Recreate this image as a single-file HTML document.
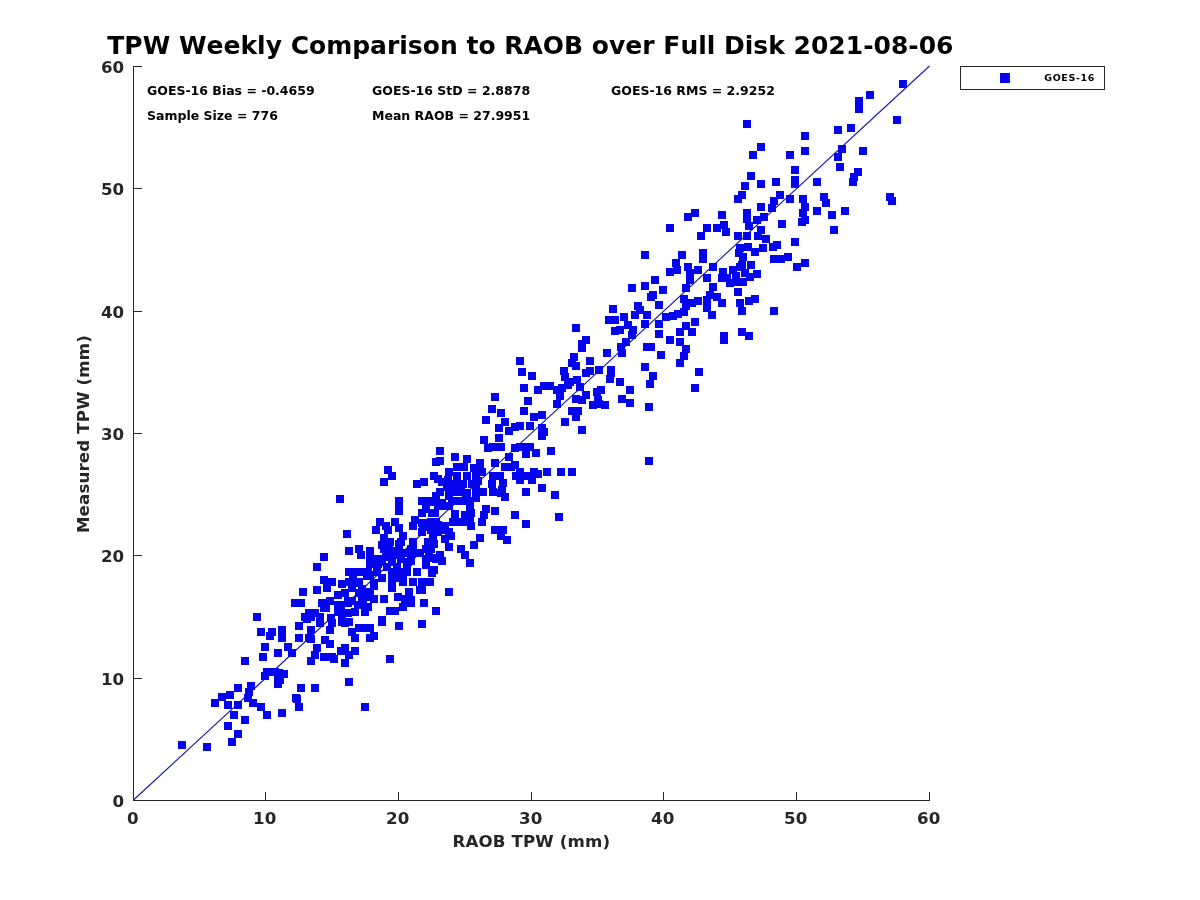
<!DOCTYPE html>
<html><head><meta charset="utf-8"><title>TPW Weekly Comparison to RAOB over Full Disk</title>
<style>
html,body{margin:0;padding:0;background:#fff;}
body{width:1200px;height:900px;overflow:hidden;}
svg{display:block;font-family:"DejaVu Sans","Liberation Sans",sans-serif;font-weight:bold;font-kerning:none;font-variant-ligatures:none;}
.ax{fill:#262626;shape-rendering:crispEdges;}
.tk{fill:#262626;font-size:16.67px;}
.lb{fill:#262626;font-size:16.67px;letter-spacing:0.14px;}
.st{fill:#000;font-size:12.5px;}
.mk{fill:#0404ee;shape-rendering:crispEdges;}
</style></head>
<body>
<svg width="1200" height="900" viewBox="0 0 1200 900">
<rect width="1200" height="900" fill="#fff"/>
<text x="530.4" y="53.8" text-anchor="middle" font-size="25" fill="#000">TPW Weekly Comparison to RAOB over Full Disk 2021-08-06</text>
<g class="st">
<text x="147" y="95">GOES-16 Bias = -0.4659</text>
<text x="147" y="120">Sample Size = 776</text>
<text x="372" y="95">GOES-16 StD = 2.8878</text>
<text x="372" y="120">Mean RAOB = 27.9951</text>
<text x="611" y="95">GOES-16 RMS = 2.9252</text>
</g>
<line x1="133.5" y1="800" x2="929.5" y2="66" stroke="#1818b0" stroke-width="1.15"/>
<path class="mk" d="M178 741h8v8h-8zM203 743h8v8h-8zM211 699h8v8h-8zM218 693h8v8h-8zM224 701h8v8h-8zM224 722h8v8h-8zM226 691h8v8h-8zM228 738h8v8h-8zM230 711h8v8h-8zM234 684h8v8h-8zM234 701h8v8h-8zM234 730h8v8h-8zM241 657h8v8h-8zM241 716h8v8h-8zM244 694h8v8h-8zM245 688h8v8h-8zM247 682h8v8h-8zM249 699h8v8h-8zM253 613h8v8h-8zM257 628h8v8h-8zM257 703h8v8h-8zM259 653h8v8h-8zM261 643h8v8h-8zM261 672h8v8h-8zM263 668h8v8h-8zM263 711h8v8h-8zM266 632h8v8h-8zM268 628h8v8h-8zM271 668h8v8h-8zM274 649h8v8h-8zM274 674h8v8h-8zM274 680h8v8h-8zM275 669h8v8h-8zM276 676h8v8h-8zM278 626h8v8h-8zM278 634h8v8h-8zM278 709h8v8h-8zM280 670h8v8h-8zM284 643h8v8h-8zM288 649h8v8h-8zM291 599h8v8h-8zM292 694h8v8h-8zM293 695h8v8h-8zM295 622h8v8h-8zM295 634h8v8h-8zM295 703h8v8h-8zM297 599h8v8h-8zM297 684h8v8h-8zM299 588h8v8h-8zM301 613h8v8h-8zM303 615h8v8h-8zM305 609h8v8h-8zM305 634h8v8h-8zM307 613h8v8h-8zM307 626h8v8h-8zM307 635h8v8h-8zM307 657h8v8h-8zM311 609h8v8h-8zM311 651h8v8h-8zM311 684h8v8h-8zM313 563h8v8h-8zM313 586h8v8h-8zM313 644h8v8h-8zM316 613h8v8h-8zM316 619h8v8h-8zM318 599h8v8h-8zM320 553h8v8h-8zM320 576h8v8h-8zM320 604h8v8h-8zM320 653h8v8h-8zM321 636h8v8h-8zM322 604h8v8h-8zM323 584h8v8h-8zM326 597h8v8h-8zM326 626h8v8h-8zM326 640h8v8h-8zM327 614h8v8h-8zM328 578h8v8h-8zM328 619h8v8h-8zM328 653h8v8h-8zM330 655h8v8h-8zM334 591h8v8h-8zM334 601h8v8h-8zM334 608h8v8h-8zM336 495h8v8h-8zM337 601h8v8h-8zM337 647h8v8h-8zM338 580h8v8h-8zM338 609h8v8h-8zM338 612h8v8h-8zM338 618h8v8h-8zM341 589h8v8h-8zM341 619h8v8h-8zM341 644h8v8h-8zM341 659h8v8h-8zM343 530h8v8h-8zM344 597h8v8h-8zM344 599h8v8h-8zM344 609h8v8h-8zM345 547h8v8h-8zM345 568h8v8h-8zM345 578h8v8h-8zM345 618h8v8h-8zM345 651h8v8h-8zM345 678h8v8h-8zM348 578h8v8h-8zM348 584h8v8h-8zM348 597h8v8h-8zM348 628h8v8h-8zM349 573h8v8h-8zM351 568h8v8h-8zM351 608h8v8h-8zM351 634h8v8h-8zM351 647h8v8h-8zM352 579h8v8h-8zM354 601h8v8h-8zM355 545h8v8h-8zM355 578h8v8h-8zM355 589h8v8h-8zM355 624h8v8h-8zM357 551h8v8h-8zM358 568h8v8h-8zM358 585h8v8h-8zM358 591h8v8h-8zM358 598h8v8h-8zM359 597h8v8h-8zM361 608h8v8h-8zM361 703h8v8h-8zM362 588h8v8h-8zM362 603h8v8h-8zM362 624h8v8h-8zM363 572h8v8h-8zM364 568h8v8h-8zM364 593h8v8h-8zM364 603h8v8h-8zM366 547h8v8h-8zM366 554h8v8h-8zM366 560h8v8h-8zM366 571h8v8h-8zM366 589h8v8h-8zM366 624h8v8h-8zM366 634h8v8h-8zM370 579h8v8h-8zM370 582h8v8h-8zM370 595h8v8h-8zM370 632h8v8h-8zM372 526h8v8h-8zM373 568h8v8h-8zM374 555h8v8h-8zM374 560h8v8h-8zM376 518h8v8h-8zM378 541h8v8h-8zM378 558h8v8h-8zM378 574h8v8h-8zM378 616h8v8h-8zM378 618h8v8h-8zM380 478h8v8h-8zM380 534h8v8h-8zM380 545h8v8h-8zM380 595h8v8h-8zM382 522h8v8h-8zM382 553h8v8h-8zM383 563h8v8h-8zM384 466h8v8h-8zM384 526h8v8h-8zM385 545h8v8h-8zM386 538h8v8h-8zM386 607h8v8h-8zM386 655h8v8h-8zM388 472h8v8h-8zM388 558h8v8h-8zM388 568h8v8h-8zM388 576h8v8h-8zM388 584h8v8h-8zM389 551h8v8h-8zM391 518h8v8h-8zM391 607h8v8h-8zM393 547h8v8h-8zM393 563h8v8h-8zM394 593h8v8h-8zM395 497h8v8h-8zM395 502h8v8h-8zM395 507h8v8h-8zM395 524h8v8h-8zM395 540h8v8h-8zM395 545h8v8h-8zM395 568h8v8h-8zM395 574h8v8h-8zM395 622h8v8h-8zM397 538h8v8h-8zM397 555h8v8h-8zM399 532h8v8h-8zM399 576h8v8h-8zM399 578h8v8h-8zM399 603h8v8h-8zM401 549h8v8h-8zM401 595h8v8h-8zM403 563h8v8h-8zM403 568h8v8h-8zM403 599h8v8h-8zM404 558h8v8h-8zM405 588h8v8h-8zM407 545h8v8h-8zM407 557h8v8h-8zM407 596h8v8h-8zM407 599h8v8h-8zM408 550h8v8h-8zM409 522h8v8h-8zM409 538h8v8h-8zM409 545h8v8h-8zM409 578h8v8h-8zM411 516h8v8h-8zM413 480h8v8h-8zM413 568h8v8h-8zM416 549h8v8h-8zM416 586h8v8h-8zM418 497h8v8h-8zM418 509h8v8h-8zM418 519h8v8h-8zM418 528h8v8h-8zM418 578h8v8h-8zM418 586h8v8h-8zM418 620h8v8h-8zM419 523h8v8h-8zM420 478h8v8h-8zM420 599h8v8h-8zM422 505h8v8h-8zM422 545h8v8h-8zM422 555h8v8h-8zM422 561h8v8h-8zM424 497h8v8h-8zM424 519h8v8h-8zM424 538h8v8h-8zM425 549h8v8h-8zM426 578h8v8h-8zM427 518h8v8h-8zM427 526h8v8h-8zM427 545h8v8h-8zM428 509h8v8h-8zM428 569h8v8h-8zM429 534h8v8h-8zM429 554h8v8h-8zM430 472h8v8h-8zM430 498h8v8h-8zM430 540h8v8h-8zM430 566h8v8h-8zM431 509h8v8h-8zM432 458h8v8h-8zM432 492h8v8h-8zM432 518h8v8h-8zM432 555h8v8h-8zM432 607h8v8h-8zM434 475h8v8h-8zM434 502h8v8h-8zM434 521h8v8h-8zM434 528h8v8h-8zM436 447h8v8h-8zM436 457h8v8h-8zM436 488h8v8h-8zM436 551h8v8h-8zM438 478h8v8h-8zM438 499h8v8h-8zM438 502h8v8h-8zM438 557h8v8h-8zM441 522h8v8h-8zM441 526h8v8h-8zM441 535h8v8h-8zM443 483h8v8h-8zM443 502h8v8h-8zM444 476h8v8h-8zM445 468h8v8h-8zM445 490h8v8h-8zM445 492h8v8h-8zM445 502h8v8h-8zM445 528h8v8h-8zM445 543h8v8h-8zM445 588h8v8h-8zM447 532h8v8h-8zM448 497h8v8h-8zM449 518h8v8h-8zM451 453h8v8h-8zM451 480h8v8h-8zM451 488h8v8h-8zM451 510h8v8h-8zM451 511h8v8h-8zM453 463h8v8h-8zM453 472h8v8h-8zM453 518h8v8h-8zM454 497h8v8h-8zM457 488h8v8h-8zM457 545h8v8h-8zM458 497h8v8h-8zM459 480h8v8h-8zM460 463h8v8h-8zM460 518h8v8h-8zM461 511h8v8h-8zM461 551h8v8h-8zM463 455h8v8h-8zM463 472h8v8h-8zM463 489h8v8h-8zM466 497h8v8h-8zM466 504h8v8h-8zM466 515h8v8h-8zM466 559h8v8h-8zM467 509h8v8h-8zM467 522h8v8h-8zM468 480h8v8h-8zM470 464h8v8h-8zM470 541h8v8h-8zM472 472h8v8h-8zM472 484h8v8h-8zM472 489h8v8h-8zM472 494h8v8h-8zM474 477h8v8h-8zM476 459h8v8h-8zM476 464h8v8h-8zM476 534h8v8h-8zM478 468h8v8h-8zM478 518h8v8h-8zM479 488h8v8h-8zM480 436h8v8h-8zM480 511h8v8h-8zM482 416h8v8h-8zM482 505h8v8h-8zM484 444h8v8h-8zM488 405h8v8h-8zM488 480h8v8h-8zM489 443h8v8h-8zM489 472h8v8h-8zM489 488h8v8h-8zM491 393h8v8h-8zM491 459h8v8h-8zM491 507h8v8h-8zM491 526h8v8h-8zM495 424h8v8h-8zM495 434h8v8h-8zM496 472h8v8h-8zM497 409h8v8h-8zM497 443h8v8h-8zM497 489h8v8h-8zM497 532h8v8h-8zM498 486h8v8h-8zM499 479h8v8h-8zM499 526h8v8h-8zM501 418h8v8h-8zM501 463h8v8h-8zM501 493h8v8h-8zM503 536h8v8h-8zM505 427h8v8h-8zM505 453h8v8h-8zM507 463h8v8h-8zM511 423h8v8h-8zM511 444h8v8h-8zM511 461h8v8h-8zM511 511h8v8h-8zM512 472h8v8h-8zM516 357h8v8h-8zM516 422h8v8h-8zM516 443h8v8h-8zM516 468h8v8h-8zM516 476h8v8h-8zM518 368h8v8h-8zM520 384h8v8h-8zM520 407h8v8h-8zM522 450h8v8h-8zM522 488h8v8h-8zM522 520h8v8h-8zM523 443h8v8h-8zM524 397h8v8h-8zM524 472h8v8h-8zM526 422h8v8h-8zM526 443h8v8h-8zM528 372h8v8h-8zM528 476h8v8h-8zM530 413h8v8h-8zM530 468h8v8h-8zM532 449h8v8h-8zM534 386h8v8h-8zM534 470h8v8h-8zM538 411h8v8h-8zM538 424h8v8h-8zM538 432h8v8h-8zM538 484h8v8h-8zM540 382h8v8h-8zM540 428h8v8h-8zM543 468h8v8h-8zM546 382h8v8h-8zM547 447h8v8h-8zM551 491h8v8h-8zM553 386h8v8h-8zM553 400h8v8h-8zM555 513h8v8h-8zM556 392h8v8h-8zM557 468h8v8h-8zM558 384h8v8h-8zM560 367h8v8h-8zM561 373h8v8h-8zM561 418h8v8h-8zM564 381h8v8h-8zM566 378h8v8h-8zM568 359h8v8h-8zM568 407h8v8h-8zM568 468h8v8h-8zM570 353h8v8h-8zM572 324h8v8h-8zM572 362h8v8h-8zM572 395h8v8h-8zM572 413h8v8h-8zM573 376h8v8h-8zM574 407h8v8h-8zM576 383h8v8h-8zM578 340h8v8h-8zM578 344h8v8h-8zM578 396h8v8h-8zM578 426h8v8h-8zM582 336h8v8h-8zM582 369h8v8h-8zM582 391h8v8h-8zM586 357h8v8h-8zM586 367h8v8h-8zM589 401h8v8h-8zM593 388h8v8h-8zM594 396h8v8h-8zM595 366h8v8h-8zM595 400h8v8h-8zM597 386h8v8h-8zM601 401h8v8h-8zM603 349h8v8h-8zM605 316h8v8h-8zM606 375h8v8h-8zM607 366h8v8h-8zM607 369h8v8h-8zM609 305h8v8h-8zM611 316h8v8h-8zM611 327h8v8h-8zM616 326h8v8h-8zM616 378h8v8h-8zM617 343h8v8h-8zM618 349h8v8h-8zM618 395h8v8h-8zM620 313h8v8h-8zM622 338h8v8h-8zM624 321h8v8h-8zM626 386h8v8h-8zM626 399h8v8h-8zM628 284h8v8h-8zM628 331h8v8h-8zM629 326h8v8h-8zM631 311h8v8h-8zM634 302h8v8h-8zM636 306h8v8h-8zM641 251h8v8h-8zM641 282h8v8h-8zM641 320h8v8h-8zM641 363h8v8h-8zM643 311h8v8h-8zM643 343h8v8h-8zM645 403h8v8h-8zM645 457h8v8h-8zM646 380h8v8h-8zM647 293h8v8h-8zM647 343h8v8h-8zM649 291h8v8h-8zM649 372h8v8h-8zM651 276h8v8h-8zM655 301h8v8h-8zM655 320h8v8h-8zM655 330h8v8h-8zM657 351h8v8h-8zM659 286h8v8h-8zM662 313h8v8h-8zM666 224h8v8h-8zM666 268h8v8h-8zM666 336h8v8h-8zM669 312h8v8h-8zM672 259h8v8h-8zM673 266h8v8h-8zM674 310h8v8h-8zM676 328h8v8h-8zM676 338h8v8h-8zM676 359h8v8h-8zM678 251h8v8h-8zM680 295h8v8h-8zM680 308h8v8h-8zM680 352h8v8h-8zM682 284h8v8h-8zM682 302h8v8h-8zM682 322h8v8h-8zM682 345h8v8h-8zM684 213h8v8h-8zM684 263h8v8h-8zM686 269h8v8h-8zM686 276h8v8h-8zM688 299h8v8h-8zM688 328h8v8h-8zM691 209h8v8h-8zM691 318h8v8h-8zM691 384h8v8h-8zM694 266h8v8h-8zM694 297h8v8h-8zM695 368h8v8h-8zM697 232h8v8h-8zM699 249h8v8h-8zM699 255h8v8h-8zM703 224h8v8h-8zM703 274h8v8h-8zM703 296h8v8h-8zM703 304h8v8h-8zM706 291h8v8h-8zM708 311h8v8h-8zM709 263h8v8h-8zM709 283h8v8h-8zM713 224h8v8h-8zM713 293h8v8h-8zM718 211h8v8h-8zM718 274h8v8h-8zM718 299h8v8h-8zM719 268h8v8h-8zM720 221h8v8h-8zM720 332h8v8h-8zM720 336h8v8h-8zM722 228h8v8h-8zM723 274h8v8h-8zM726 279h8v8h-8zM729 266h8v8h-8zM732 272h8v8h-8zM733 278h8v8h-8zM734 195h8v8h-8zM734 232h8v8h-8zM734 288h8v8h-8zM735 249h8v8h-8zM736 244h8v8h-8zM736 263h8v8h-8zM736 299h8v8h-8zM738 191h8v8h-8zM738 261h8v8h-8zM738 307h8v8h-8zM738 328h8v8h-8zM739 253h8v8h-8zM739 278h8v8h-8zM741 182h8v8h-8zM741 269h8v8h-8zM743 120h8v8h-8zM743 209h8v8h-8zM743 215h8v8h-8zM743 232h8v8h-8zM744 243h8v8h-8zM745 222h8v8h-8zM745 297h8v8h-8zM745 332h8v8h-8zM746 273h8v8h-8zM747 172h8v8h-8zM747 261h8v8h-8zM749 151h8v8h-8zM751 248h8v8h-8zM751 295h8v8h-8zM753 216h8v8h-8zM753 270h8v8h-8zM754 232h8v8h-8zM757 143h8v8h-8zM757 180h8v8h-8zM757 203h8v8h-8zM757 226h8v8h-8zM759 244h8v8h-8zM760 213h8v8h-8zM762 235h8v8h-8zM768 204h8v8h-8zM769 243h8v8h-8zM770 197h8v8h-8zM770 255h8v8h-8zM770 307h8v8h-8zM772 178h8v8h-8zM773 241h8v8h-8zM776 191h8v8h-8zM777 255h8v8h-8zM778 220h8v8h-8zM784 253h8v8h-8zM786 151h8v8h-8zM786 195h8v8h-8zM791 166h8v8h-8zM791 176h8v8h-8zM791 180h8v8h-8zM791 238h8v8h-8zM793 263h8v8h-8zM798 218h8v8h-8zM799 195h8v8h-8zM799 209h8v8h-8zM801 132h8v8h-8zM801 147h8v8h-8zM801 203h8v8h-8zM801 216h8v8h-8zM801 259h8v8h-8zM813 178h8v8h-8zM813 207h8v8h-8zM820 193h8v8h-8zM822 199h8v8h-8zM828 211h8v8h-8zM830 226h8v8h-8zM834 126h8v8h-8zM834 153h8v8h-8zM836 163h8v8h-8zM838 145h8v8h-8zM841 207h8v8h-8zM847 124h8v8h-8zM849 178h8v8h-8zM850 173h8v8h-8zM854 168h8v8h-8zM855 97h8v8h-8zM855 105h8v8h-8zM859 147h8v8h-8zM866 91h8v8h-8zM886 193h8v8h-8zM888 197h8v8h-8zM893 116h8v8h-8zM899 80h8v8h-8z"/>
<g class="ax">
<rect x="133" y="66" width="1" height="735"/>
<rect x="133" y="800" width="797" height="1"/>
<rect x="133" y="792" width="1" height="8"/><rect x="134" y="800" width="8" height="1"/><rect x="265" y="792" width="1" height="8"/><rect x="134" y="678" width="8" height="1"/><rect x="398" y="792" width="1" height="8"/><rect x="134" y="555" width="8" height="1"/><rect x="531" y="792" width="1" height="8"/><rect x="134" y="433" width="8" height="1"/><rect x="663" y="792" width="1" height="8"/><rect x="134" y="311" width="8" height="1"/><rect x="796" y="792" width="1" height="8"/><rect x="134" y="188" width="8" height="1"/><rect x="929" y="792" width="1" height="8"/><rect x="134" y="66" width="8" height="1"/>
</g>
<g class="tk"><text x="132.7" y="823.7" text-anchor="middle">0</text><text x="264.7" y="823.7" text-anchor="middle">10</text><text x="397.7" y="823.7" text-anchor="middle">20</text><text x="530.7" y="823.7" text-anchor="middle">30</text><text x="662.7" y="823.7" text-anchor="middle">40</text><text x="795.7" y="823.7" text-anchor="middle">50</text><text x="928.7" y="823.7" text-anchor="middle">60</text><text x="124.2" y="806.7" text-anchor="end">0</text><text x="124.2" y="684.7" text-anchor="end">10</text><text x="124.2" y="561.7" text-anchor="end">20</text><text x="124.2" y="439.7" text-anchor="end">30</text><text x="124.2" y="317.7" text-anchor="end">40</text><text x="124.2" y="194.7" text-anchor="end">50</text><text x="124.2" y="72.7" text-anchor="end">60</text></g>
<text class="lb" x="531.4" y="846.7" text-anchor="middle">RAOB TPW (mm)</text>
<text class="lb" transform="translate(89.4 434) rotate(-90)" text-anchor="middle">Measured TPW (mm)</text>
<g>
<rect x="960.5" y="66.5" width="144" height="23" fill="#fff" stroke="#262626" stroke-width="1" shape-rendering="crispEdges"/>
<rect class="mk" x="1000" y="73" width="10" height="10"/>
<text x="1044.3" y="80.8" font-size="9.5" fill="#000" letter-spacing="0.6">GOES-16</text>
</g>
</svg>
</body></html>
